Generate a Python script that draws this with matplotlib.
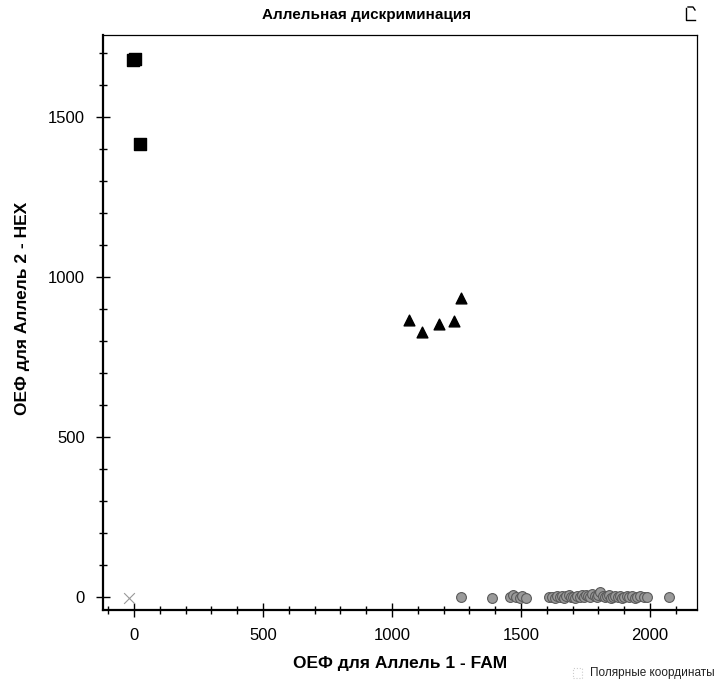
import matplotlib
matplotlib.use("Agg")
import matplotlib.pyplot as plt
from matplotlib.ticker import MultipleLocator
import matplotlib.patches as mpatches
import matplotlib.lines as mlines

plt.rcParams['font.family'] = ['Liberation Sans', 'DejaVu Sans']

# Allele 2 homozygotes (squares)
sq_x = [-5, 5, 25]
sq_y = [1678, 1680, 1415]

# Heterozygotes (triangles)
tri_x = [1066, 1116, 1182, 1240, 1267]
tri_y = [866, 828, 853, 862, 934]

# Allele 1 homozygotes (circles)
circ_x = [1267, 1388, 1458, 1470, 1482, 1495, 1505, 1520,
          1610, 1620, 1630, 1640, 1650, 1660, 1668, 1676, 1685, 1694, 1702,
          1710, 1718, 1727, 1735, 1743, 1752, 1760, 1768, 1776, 1785, 1793,
          1800, 1808, 1816, 1825, 1833, 1842, 1850, 1858, 1866, 1875, 1884,
          1892, 1900, 1910, 1920, 1930, 1940, 1950, 1962, 1975, 1988, 2074]
circ_y = [0, -2, 0, 6, 2, -3, 3, -2,
          0, 2, -2, 3, 0, 5, -2, 3, 6, 0, 2,
          -3, 4, 0, 6, 2, 8, 3, 0, 10, 4, 0,
          6, 16, 5, 0, 3, 6, -2, 2, 4, 0, 3,
          -1, 2, 4, 0, 3, -2, 2, 4, 0, 2, 0]

# No template control (x)
ntc_x = [-20]
ntc_y = [-3]

fig = plt.figure(figsize=(7.21, 6.84), dpi=100)
ax = fig.add_axes([0.1429, 0.1082, 0.8238, 0.8406])

ax.scatter(circ_x, circ_y, s=50, marker='o', facecolor='#9a9a9a',
           edgecolor='#5a5a5a', linewidth=0.8, zorder=3)
ax.scatter(tri_x, tri_y, s=60, marker='^', color='black', zorder=3)
ax.scatter(sq_x, sq_y, s=80, marker='s', color='black', zorder=3)
ax.scatter(ntc_x, ntc_y, s=60, marker='x', color='#999999', linewidth=0.8, zorder=3)

ax.set_xlim(-120, 2182)
ax.set_ylim(-40, 1756)
ax.xaxis.set_major_locator(MultipleLocator(500))
ax.xaxis.set_minor_locator(MultipleLocator(100))
ax.yaxis.set_major_locator(MultipleLocator(500))
ax.yaxis.set_minor_locator(MultipleLocator(100))
ax.tick_params(which='major', direction='inout', length=10, width=1.0,
               labelsize=12, pad=8, colors='black')
ax.tick_params(which='minor', direction='inout', length=6, width=1.0)

for s in ['left', 'bottom']:
    ax.spines[s].set_linewidth(1.6)
for s in ['top', 'right']:
    ax.spines[s].set_linewidth(0.9)

ax.set_xlabel('ОЕФ для Аллель 1 - FAM', fontsize=12.5, fontweight='bold', labelpad=9)
ax.set_ylabel('ОЕФ для Аллель 2 - HEX', fontsize=12.5, fontweight='bold')
ax.yaxis.set_label_coords(-0.123, 0.525)

fig.text(367 / 721, 1 - 15 / 684, 'Аллельная дискриминация', fontsize=11,
         fontweight='bold', ha='center', va='center')

# small icon at top right
def fx(p):
    return p / 721

def fy(p):
    return 1 - p / 684

fig.add_artist(mlines.Line2D([fx(686), fx(686), fx(695)], [fy(8), fy(20), fy(20)],
                             color='black', linewidth=1.0, transform=fig.transFigure))
fig.add_artist(mlines.Line2D([fx(688), fx(693), fx(695)], [fy(7), fy(7), fy(10)],
                             color='black', linewidth=1.0, transform=fig.transFigure))

# checkbox with label at bottom right
fig.add_artist(mpatches.Rectangle((fx(573), fy(678)), 9 / 721, 10 / 684,
                                  fill=False, edgecolor='#cccccc', linewidth=0.8,
                                  linestyle=':', transform=fig.transFigure))
fig.text(fx(590), fy(673), 'Полярные координаты', fontsize=8.5,
         ha='left', va='center', color='#222222')

fig.savefig('out.png', dpi=100)
